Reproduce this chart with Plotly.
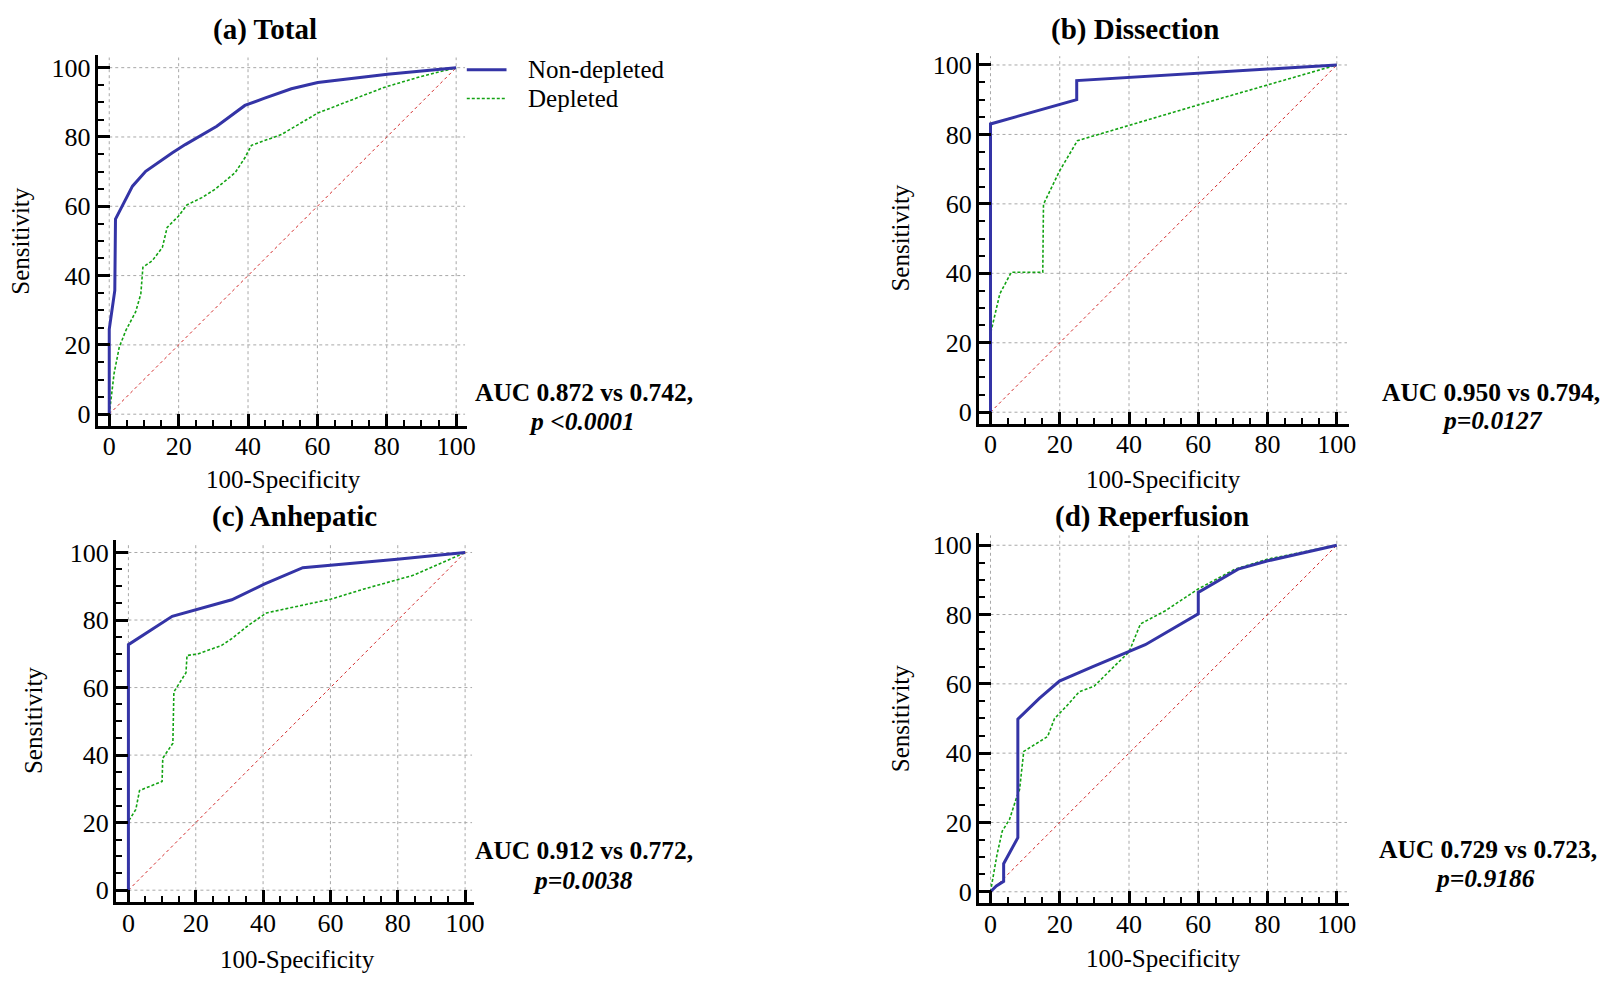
import plotly.graph_objects as go

W, H = 1610, 986
FONT = "Liberation Serif"

# ---------------- data ----------------
# (a) Total
a_nd_x = [0, 0, 1.6, 1.8, 6.7, 10.5, 18.1, 21.9, 31.0, 35.3, 39.1, 44.8, 52.5, 60.1, 80.2, 100]
a_nd_y = [0, 24.5, 35.7, 56.3, 65.8, 70.1, 75.4, 77.8, 83.1, 86.4, 89.1, 91.2, 93.9, 95.7, 98.1, 100]
a_d_x = [0, 1.4, 2.9, 4.8, 7.6, 9.1, 9.7, 12.4, 15.3, 16.7, 20.0, 22.4, 26.7, 30.5, 36.3, 39.1, 41.0,
         49.6, 60.1, 69.7, 79.2, 89.7, 100]
a_d_y = [0, 11.8, 19.4, 24.2, 29.5, 34.7, 42.4, 44.3, 48.1, 53.9, 57.2, 60.4, 62.5, 64.9, 69.7, 74.0, 77.6,
         80.7, 86.9, 90.7, 94.3, 97.4, 100]
# (b) Dissection
b_nd_x = [0, 0, 24.9, 24.9, 100]
b_nd_y = [0, 83.0, 90.0, 95.5, 100]
b_d_x = [0, 0, 2.7, 6.0, 15.1, 15.3, 19.9, 25.1, 60.0, 100]
b_d_y = [0, 22.6, 34.1, 40.3, 40.3, 59.9, 69.4, 78.2, 88.5, 100]
# (c) Anhepatic
c_nd_x = [0, 0, 13.0, 20.8, 30.7, 40.5, 51.8, 79.8, 100]
c_nd_y = [0, 72.7, 81.1, 83.3, 86.0, 90.7, 95.5, 98.0, 100]
c_d_x = [0, 0, 2.2, 3.3, 10.0, 10.2, 13.2, 13.5, 17.1, 17.4, 20.8, 27.7, 30.7, 35.6, 41.0, 52.3, 60.2,
         70.0, 84.8, 100]
c_d_y = [0, 20.4, 23.9, 29.5, 32.2, 39.1, 43.5, 58.7, 64.4, 69.5, 70.0, 72.5, 74.5, 78.4, 82.1, 84.5, 86.2,
         89.2, 93.3, 100]
# (d) Reperfusion
d_nd_x = [0, 1.7, 3.8, 3.8, 7.9, 7.9, 14.1, 19.9, 29.4, 40.0, 44.7, 60.0, 60.0, 71.5, 80.1, 100]
d_nd_y = [0, 1.7, 3.0, 8.1, 15.6, 49.8, 55.8, 60.8, 64.9, 69.2, 71.3, 80.2, 86.4, 93.1, 95.5, 100]
d_d_x = [0, 0.8, 1.9, 3.4, 5.5, 7.5, 8.4, 9.6, 16.5, 18.5, 21.8, 25.6, 29.9, 36.1, 40.0, 43.3, 50.5,
         60.0, 70.6, 80.1, 100]
d_d_y = [0, 4.6, 10.8, 17.5, 20.9, 27.1, 29.5, 40.5, 44.8, 50.0, 53.4, 57.7, 59.3, 65.4, 69.2, 77.3, 81.1,
         87.4, 93.1, 96.0, 100]

diag = [0, 100]
ticks_major = [0, 20, 40, 60, 80, 100]

titles = ["(a) Total", "(b) Dissection", "(c) Anhepatic", "(d) Reperfusion"]
auc_lines = ["AUC 0.872 vs 0.742,", "AUC 0.950 vs 0.794,", "AUC 0.912 vs 0.772,", "AUC 0.729 vs 0.723,"]
p_lines = ["p <0.0001", "p=0.0127", "p=0.0038", "p=0.9186"]
series_names = ["Non-depleted", "Depleted"]

nd_x = [a_nd_x, b_nd_x, c_nd_x, d_nd_x]
nd_y = [a_nd_y, b_nd_y, c_nd_y, d_nd_y]
dp_x = [a_d_x, b_d_x, c_d_x, d_d_x]
dp_y = [a_d_y, b_d_y, c_d_y, d_d_y]

# ---------------- layout geometry (pixels) ----------------
panels = [
    dict(x0=110.0, x100=459.3, y0=414.3, y100=66.0, left=98.3, right=470.0, top=53.0, bottom=426.0,
         title=(267, 28), ytitle=(21, 240), xtitle=(285, 480), auc=(588, 392), p=(586, 422)),
    dict(x0=997.3, x100=1346.0, y0=412.3, y100=63.3, left=985.7, right=1358.0, top=51.7, bottom=424.0,
         title=(1143, 28), ytitle=(907, 237), xtitle=(1172, 480), auc=(1501, 392), p=(1503, 421)),
    dict(x0=129.3, x100=468.3, y0=892.7, y100=553.3, left=116.7, right=477.0, top=540.7, bottom=905.0,
         title=(297, 517), ytitle=(34, 722), xtitle=(300, 962), auc=(588, 853), p=(587, 883)),
    dict(x0=997.3, x100=1346.0, y0=894.3, y100=546.0, left=985.7, right=1358.0, top=533.3, bottom=906.0,
         title=(1160, 517), ytitle=(907, 720), xtitle=(1172, 961), auc=(1498, 852), p=(1495, 881)),
]

BLUE = "#3434a6"
GREEN = "#13a313"
RED = "#d22a2a"
GRID = "#a8a8a8"
LEG_LEFT, LEG_RIGHT, LEG_TEXT = 470, 510, 530
LEG_ROWS = [68, 97]


def px(x):
    return x / W


def py(y):
    return 1 - y / H


fig = go.Figure()
layout = dict(width=W, height=H, margin=dict(l=0, r=0, t=0, b=0), paper_bgcolor="white",
              plot_bgcolor="rgba(0,0,0,0)", showlegend=False)
shapes = []
annotations = []

line_styles = [dict(color=BLUE, width=3), dict(color=GREEN, width=1.6, dash="3px,2px")]

for i, p in enumerate(panels):
    n = "" if i == 0 else str(i + 1)
    xa, ya = "x" + n, "y" + n
    sx = (p["x100"] - p["x0"]) / 100.0
    sy = (p["y0"] - p["y100"]) / 100.0
    xr = [(p["left"] - p["x0"]) / sx, (p["right"] - p["x0"]) / sx]
    yr = [(p["y0"] - p["bottom"]) / sy, (p["y0"] - p["top"]) / sy]
    common = dict(showline=True, linecolor="black", linewidth=3, mirror=False,
                  ticks="inside", ticklen=12, tickwidth=2.5, tickcolor="black",
                  tickmode="linear", tick0=0, dtick=20,
                  showgrid=False, zeroline=False, fixedrange=True,
                  tickfont=dict(family=FONT, size=26, color="black"),
                  minor=dict(ticks="inside", ticklen=6, tickwidth=1.5, tickcolor="black",
                             tick0=0, dtick=5, showgrid=False))
    layout["xaxis" + n] = dict(common, domain=[px(p["left"]), px(p["right"])], range=xr,
                               anchor=ya, ticklabelstandoff=-5)
    layout["yaxis" + n] = dict(common, domain=[py(p["bottom"]), py(p["top"])], range=yr,
                               anchor=xa, ticklabelstandoff=-1)

    # dotted grid lines (stop at 0 like the reference)
    gtop = yr[1] - 0.8
    gright = xr[1] - 0.5
    for v in ticks_major:
        shapes.append(dict(type="line", xref=xa, yref=ya, x0=v, x1=v, y0=0, y1=gtop, layer="below",
                           line=dict(color=GRID, width=1, dash="dot")))
        shapes.append(dict(type="line", xref=xa, yref=ya, x0=0, x1=gright, y0=v, y1=v, layer="below",
                           line=dict(color=GRID, width=1, dash="dot")))

    # traces
    fig.add_trace(go.Scatter(x=diag, y=diag, mode="lines", xaxis=xa, yaxis=ya, showlegend=False,
                             hoverinfo="skip", line=dict(color=RED, width=1, dash="dot")))
    fig.add_trace(go.Scatter(x=dp_x[i], y=dp_y[i], mode="lines", xaxis=xa, yaxis=ya,
                             name=series_names[1], line=line_styles[1]))
    fig.add_trace(go.Scatter(x=nd_x[i], y=nd_y[i], mode="lines", xaxis=xa, yaxis=ya,
                             name=series_names[0], line=line_styles[0]))

    # texts
    annotations.append(dict(text="<b>" + titles[i] + "</b>", x=px(p["title"][0]), y=py(p["title"][1]),
                            xref="paper", yref="paper", showarrow=False, xanchor="center", yanchor="middle",
                            font=dict(family=FONT, size=29, color="black")))
    annotations.append(dict(text="Sensitivity", x=px(p["ytitle"][0]), y=py(p["ytitle"][1]), textangle=-90,
                            xref="paper", yref="paper", showarrow=False, xanchor="center", yanchor="middle",
                            font=dict(family=FONT, size=25, color="black")))
    annotations.append(dict(text="100-Specificity", x=px(p["xtitle"][0]), y=py(p["xtitle"][1]),
                            xref="paper", yref="paper", showarrow=False, xanchor="center", yanchor="middle",
                            font=dict(family=FONT, size=25, color="black")))
    annotations.append(dict(text="<b>" + auc_lines[i] + "</b>", x=px(p["auc"][0]), y=py(p["auc"][1]),
                            xref="paper", yref="paper", showarrow=False, xanchor="center", yanchor="middle",
                            font=dict(family=FONT, size=25.5, color="black")))
    annotations.append(dict(text="<b><i>" + p_lines[i] + "</i></b>", x=px(p["p"][0]), y=py(p["p"][1]),
                            xref="paper", yref="paper", showarrow=False, xanchor="center", yanchor="middle",
                            font=dict(family=FONT, size=25.5, color="black")))

# legend (drawn for panel a)
for name, style, row in zip(series_names, line_styles, LEG_ROWS):
    shapes.append(dict(type="line", xref="paper", yref="paper", x0=px(LEG_LEFT), x1=px(LEG_RIGHT),
                       y0=py(row), y1=py(row), line=style))
    annotations.append(dict(text=name, x=px(LEG_TEXT), y=py(row), xref="paper", yref="paper",
                            showarrow=False, xanchor="left", yanchor="middle",
                            font=dict(family=FONT, size=25, color="black")))

layout["shapes"] = shapes
layout["annotations"] = annotations
fig.update_layout(**layout)
fig.write_html("out.html")
